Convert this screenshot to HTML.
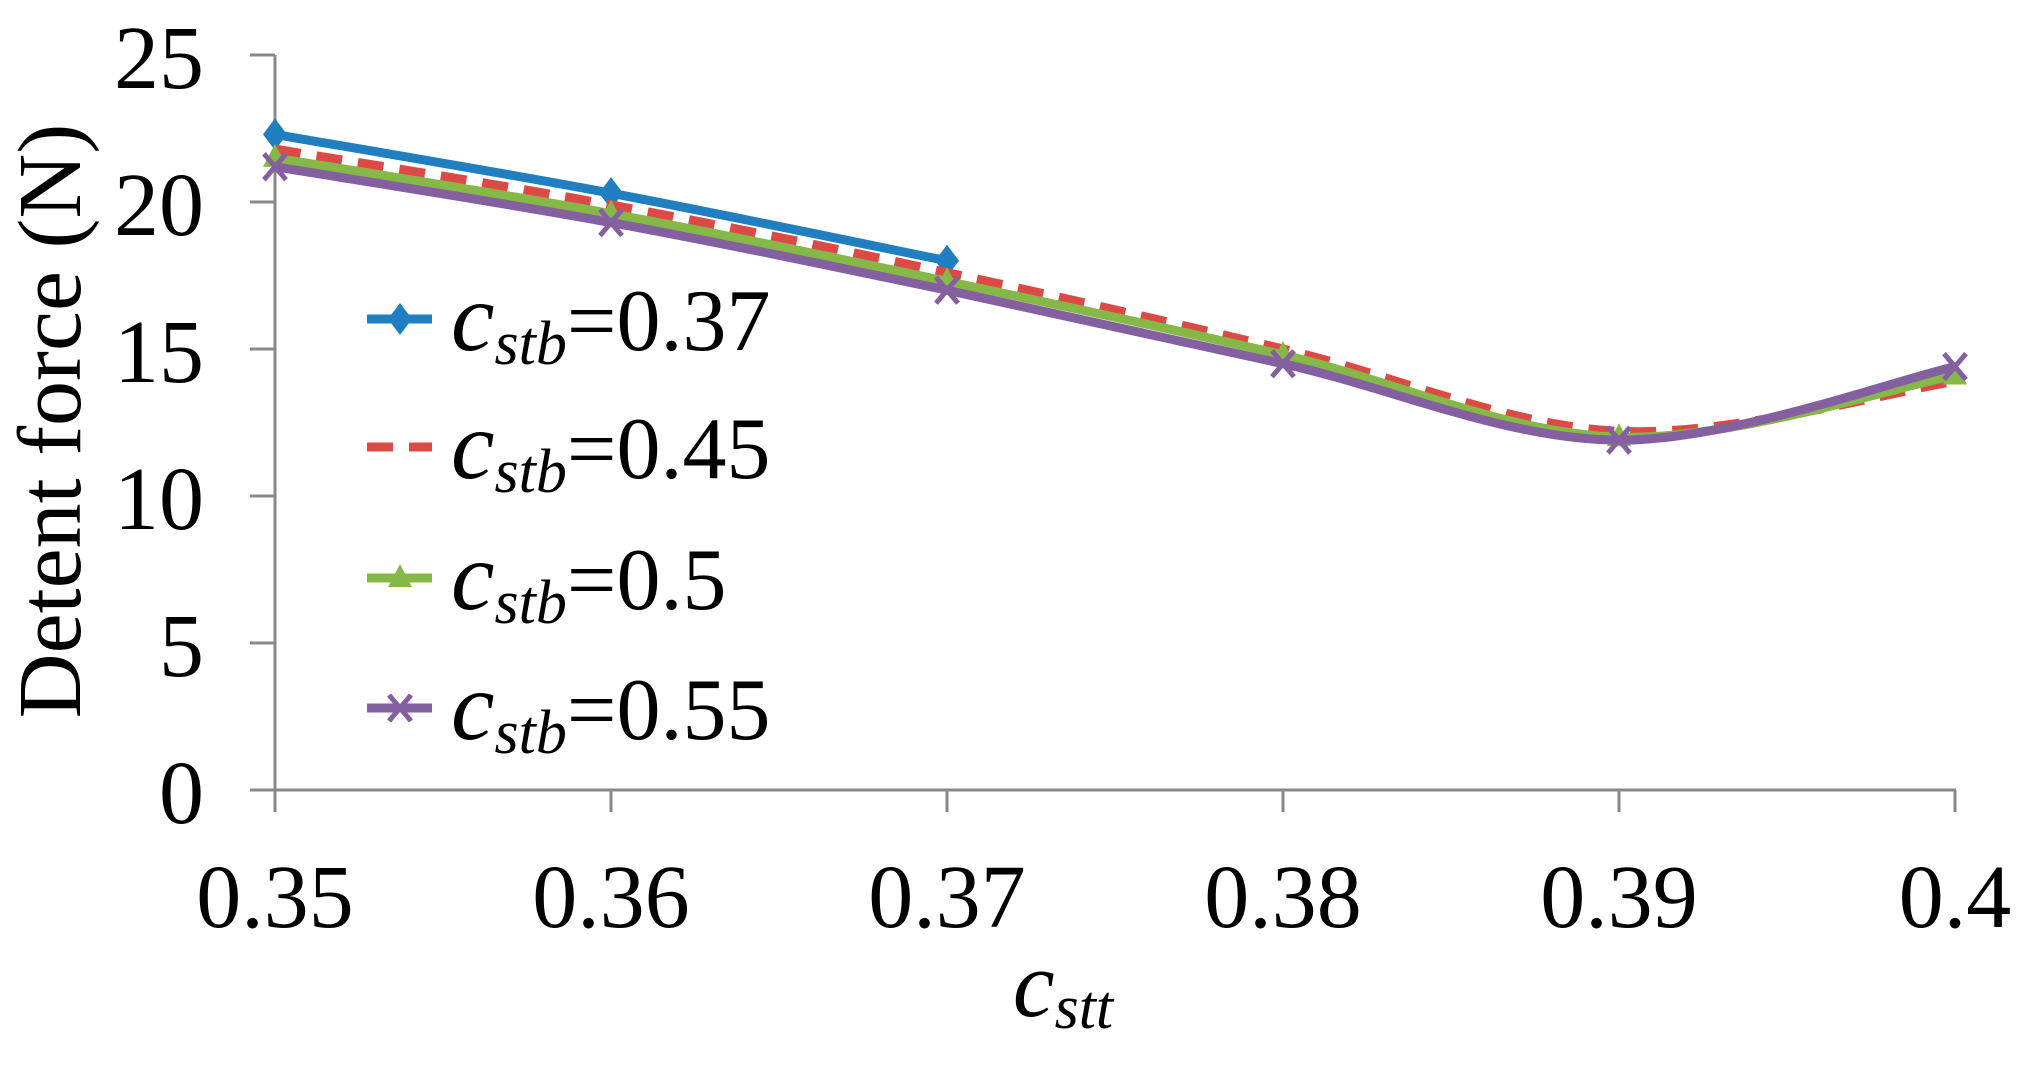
<!DOCTYPE html>
<html><head><meta charset="utf-8"><style>
html,body{margin:0;padding:0;background:#fff;}
svg{display:block;}
</style></head><body>
<svg id="s" width="2033" height="1082" viewBox="0 0 2033 1082" xmlns="http://www.w3.org/2000/svg" font-family="'Liberation Serif','Times New Roman',Times,serif">
<g stroke="#888" stroke-width="3" fill="none">
<line x1="275" y1="55" x2="275" y2="790"/>
<line x1="250" y1="790" x2="1956" y2="790"/>
<line x1="250" y1="55" x2="275" y2="55"/>
<line x1="250" y1="202" x2="275" y2="202"/>
<line x1="250" y1="349" x2="275" y2="349"/>
<line x1="250" y1="496" x2="275" y2="496"/>
<line x1="250" y1="643" x2="275" y2="643"/>
<line x1="275" y1="790" x2="275" y2="812"/>
<line x1="611" y1="790" x2="611" y2="812"/>
<line x1="947" y1="790" x2="947" y2="812"/>
<line x1="1283" y1="790" x2="1283" y2="812"/>
<line x1="1619" y1="790" x2="1619" y2="812"/>
<line x1="1955" y1="790" x2="1955" y2="812"/>
</g>
<g font-size="90" text-anchor="end">
<text x="204" y="88">25</text>
<text x="204" y="235">20</text>
<text x="204" y="382">15</text>
<text x="204" y="529">10</text>
<text x="204" y="676">5</text>
<text x="204" y="823">0</text>
</g>
<g font-size="90" text-anchor="middle">
<text x="275" y="927">0.35</text>
<text x="611" y="927">0.36</text>
<text x="947" y="927">0.37</text>
<text x="1283" y="927">0.38</text>
<text x="1619" y="927">0.39</text>
<text x="1955" y="927">0.4</text>
</g>
<text x="1063" y="1016" text-anchor="middle" font-size="94" font-style="italic">c<tspan font-size="62" dy="12">stt</tspan></text>
<text transform="translate(80,421) rotate(-90)" text-anchor="middle" font-size="90">Detent force (N)</text>
<g id="series"></g>
<g id="legend"></g>
</svg>
<script>
var X=function(i){return 275+336*i;}, Y=function(v){return 790-v*29.4;};
function path(vals){
  var p=vals.map(function(v,i){return [X(i),Y(v)];});
  var d="M"+p[0][0]+","+p[0][1];
  for(var i=0;i<p.length-1;i++){
    var p0=p[i>0?i-1:i],p1=p[i],p2=p[i+1],p3=p[i+2<p.length?i+2:i+1];
    var t=1/6;
    var c1=[p1[0]+(p2[0]-p0[0])*t,p1[1]+(p2[1]-p0[1])*t];
    var c2=[p2[0]-(p3[0]-p1[0])*t,p2[1]-(p3[1]-p1[1])*t];
    d+=" C"+c1+" "+c2+" "+p2;
  }
  return d;
}
var S=[
 {c:"#1f7fc0",v:[22.3,20.3,18.0],m:"d"},
 {c:"#dd4a45",v:[21.8,19.9,17.6,15.0,12.2,13.9],m:"n",dash:"26 16"},
 {c:"#86b848",v:[21.5,19.6,17.3,14.8,12.0,14.1],m:"t"},
 {c:"#8460a0",v:[21.2,19.3,17.0,14.5,11.9,14.4],m:"x"}
];
function marker(m,x,y,c){
  if(m=="d")return '<polygon points="'+x+','+(y-16)+' '+(x+12)+','+y+' '+x+','+(y+16)+' '+(x-12)+','+y+'" fill="'+c+'"/>';
  if(m=="t")return '<polygon points="'+x+','+(y-14)+' '+(x+12)+','+(y+9)+' '+(x-12)+','+(y+9)+'" fill="'+c+'"/>';
  if(m=="x")return '<path d="M'+(x-11)+','+(y-13)+' L'+(x+11)+','+(y+13)+' M'+(x+11)+','+(y-13)+' L'+(x-11)+','+(y+13)+'" stroke="'+c+'" stroke-width="5"/>';
  return "";
}
var h="";
S.forEach(function(s){
  h+='<path d="'+path(s.v)+'" fill="none" stroke="'+s.c+'" stroke-width="9" stroke-linejoin="round"'+(s.dash?' stroke-dasharray="'+s.dash+'"':'')+'/>';
  s.v.forEach(function(v,i){h+=marker(s.m,X(i),Y(v),s.c);});
});
document.getElementById("series").innerHTML=h;
var labs=["0.37","0.45","0.5","0.55"],ly=[319,447,578,708],l="";
S.forEach(function(s,i){
  var y=ly[i];
  l+='<line x1="367" y1="'+y+'" x2="432" y2="'+y+'" stroke="'+s.c+'" stroke-width="9"'+(s.dash?' stroke-dasharray="26 16"':'')+'/>';
  l+=marker(s.m,400,y,s.c);
  l+='<text x="451" y="'+(y+31)+'" font-size="88"><tspan font-style="italic" font-size="98">c</tspan><tspan font-style="italic" font-size="62" dy="14">stb</tspan><tspan dy="-14">='+labs[i]+'</tspan></text>';
});
document.getElementById("legend").innerHTML=l;
</script>
</body></html>
